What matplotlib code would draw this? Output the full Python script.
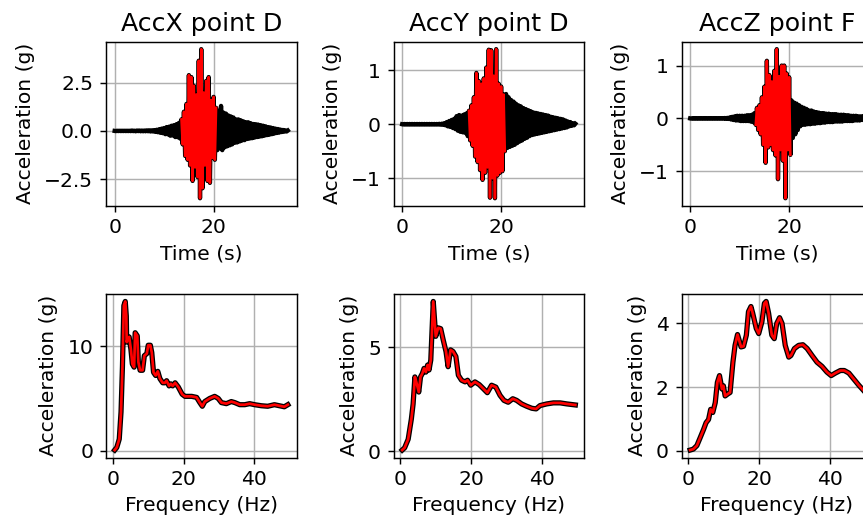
import numpy as np
import matplotlib
matplotlib.use("Agg")
import matplotlib.pyplot as plt

# ---------------- data ----------------
dt = 0.25  # sampling step of the digitised records (s)

acc_x = [
    0.00, -0.01, 0.01, -0.01,
    0.01, -0.01, 0.01, -0.01,
    0.01, -0.01, 0.01, -0.01,
    0.01, -0.01, 0.02, -0.01,
    0.01, -0.02, 0.02, -0.01,
    0.02, -0.02, 0.02, -0.02,
    0.02, -0.02, 0.03, -0.02,
    0.03, -0.03, 0.03, -0.03,
    0.04, -0.05, 0.06, -0.07,
    0.09, -0.10, 0.12, -0.12,
    0.15, -0.17, 0.20, -0.18,
    0.22, -0.25, 0.27, -0.24,
    0.30, -0.32, 0.35, -0.33,
    0.42, -0.40, 0.60, -0.70,
    1.00, -1.30, 1.40, -1.50,
    2.90, -1.80, 2.80, -2.60,
    2.35, -1.90, 1.90, -2.40,
    3.65, -3.50, 4.25, -2.98,
    2.00, -1.80, 2.60, -2.60,
    2.80, -2.70, 1.60, -1.40,
    1.77, -1.50, 1.20, -1.00,
    1.00, -0.90, 1.30, -1.00,
    0.95, -0.85, 0.90, -0.80,
    0.80, -0.75, 0.75, -0.70,
    0.70, -0.62, 0.60, -0.60,
    0.60, -0.55, 0.55, -0.50,
    0.50, -0.48, 0.45, -0.42,
    0.45, -0.40, 0.40, -0.38,
    0.36, -0.35, 0.35, -0.32,
    0.33, -0.30, 0.30, -0.28,
    0.27, -0.25, 0.24, -0.22,
    0.20, -0.20, 0.18, -0.17,
    0.15, -0.14, 0.12, -0.11,
    0.10, -0.09, 0.07, -0.06,
    0.05, -0.04, 0.03, -0.03,
    0.02,
]

acc_y = [
    0.000, -0.005, 0.005, -0.005,
    0.005, -0.005, 0.005, -0.005,
    0.005, -0.005, 0.005, -0.005,
    0.005, -0.005, 0.005, -0.005,
    0.005, -0.005, 0.005, -0.005,
    0.005, -0.005, 0.005, -0.005,
    0.005, -0.005, 0.005, -0.005,
    0.005, -0.005, 0.008, -0.008,
    0.01, -0.01, 0.02, -0.02,
    0.04, -0.04, 0.06, -0.05,
    0.08, -0.07, 0.10, -0.09,
    0.15, -0.12, 0.17, -0.14,
    0.16, -0.15, 0.18, -0.16,
    0.20, -0.22, 0.25, -0.30,
    0.35, -0.40, 0.50, -0.60,
    0.95, -0.70, 0.80, -0.85,
    0.75, -1.03, 0.85, -0.90,
    1.05, -0.80, 1.38, -1.36,
    1.37, -1.00, 0.90, -1.37,
    1.39, -0.95, 0.75, -0.90,
    0.70, -0.87, 0.55, -0.50,
    0.56, -0.44, 0.50, -0.42,
    0.45, -0.40, 0.42, -0.38,
    0.38, -0.35, 0.35, -0.32,
    0.33, -0.30, 0.30, -0.27,
    0.28, -0.25, 0.26, -0.22,
    0.24, -0.20, 0.22, -0.19,
    0.21, -0.18, 0.20, -0.17,
    0.19, -0.16, 0.18, -0.15,
    0.17, -0.14, 0.16, -0.13,
    0.14, -0.12, 0.13, -0.11,
    0.12, -0.10, 0.11, -0.09,
    0.10, -0.08, 0.09, -0.07,
    0.07, -0.06, 0.05, -0.04,
    0.04, -0.03, 0.02, -0.02,
    0.01,
]

acc_z = [
    0.000, -0.005, 0.005, -0.005,
    0.005, -0.005, 0.005, -0.005,
    0.005, -0.005, 0.005, -0.005,
    0.005, -0.005, 0.005, -0.005,
    0.005, -0.005, 0.005, -0.005,
    0.005, -0.005, 0.005, -0.005,
    0.005, -0.005, 0.005, -0.005,
    0.008, -0.008, 0.010, -0.010,
    0.02, -0.02, 0.03, -0.03,
    0.04, -0.04, 0.05, -0.04,
    0.05, -0.05, 0.05, -0.05,
    0.05, -0.05, 0.06, -0.05,
    0.06, -0.06, 0.07, -0.07,
    0.10, -0.12, 0.20, -0.22,
    0.25, -0.30, 0.40, -0.50,
    0.60, -0.84, 1.09, -0.55,
    0.82, -0.50, 0.70, -0.60,
    0.90, -0.70, 1.31, -1.15,
    0.80, -0.60, 1.00, -0.80,
    1.00, -1.51, 0.85, -0.60,
    0.78, -0.69, 0.34, -0.37,
    0.30, -0.30, 0.28, -0.22,
    0.25, -0.15, 0.22, -0.12,
    0.20, -0.12, 0.18, -0.11,
    0.15, -0.11, 0.15, -0.10,
    0.13, -0.10, 0.12, -0.09,
    0.11, -0.09, 0.10, -0.08,
    0.10, -0.08, 0.09, -0.07,
    0.09, -0.07, 0.08, -0.07,
    0.08, -0.06, 0.08, -0.06,
    0.07, -0.06, 0.07, -0.06,
    0.07, -0.05, 0.06, -0.05,
    0.06, -0.05, 0.05, -0.05,
    0.05, -0.04, 0.05, -0.04,
    0.04, -0.04, 0.04, -0.03,
    0.03,
]

# strong-motion windows (s) drawn in red
window_x = [13.5, 20.5]
window_y = [13.5, 20.75]
window_z = [13.25, 20.3]

# response spectra
freq_x = [0.5, 1.1, 1.8, 2.3, 2.7, 3.1, 3.5, 3.8, 3.9, 4.2, 4.6, 5.1, 5.5, 6.0, 6.3,
          6.9, 7.2, 7.7, 8.4, 8.9, 9.6, 10.0, 10.6, 11.0, 11.5, 12.1, 12.7, 13.3,
          14.1, 14.7, 15.2, 15.9, 16.4, 16.9, 17.6, 18.5, 19.6, 20.4, 22.3, 23.7,
          24.6, 25.3, 26.0, 27.4, 28.8, 29.8, 30.7, 32.1, 33.5, 34.5, 35.9, 37.3,
          38.7, 40.1, 42.0, 43.8, 45.7, 47.1, 48.5, 49.5]
spec_x = [0.05, 0.3, 1.1, 3.7, 8.0, 13.9, 14.3, 12.9, 10.4, 10.7, 10.9, 9.7, 8.3, 8.0,
          11.3, 11.0, 8.5, 7.7, 7.7, 9.1, 9.3, 10.1, 10.1, 9.4, 7.5, 7.2, 7.6, 6.9,
          6.5, 6.5, 6.7, 6.2, 6.4, 6.2, 6.5, 6.1, 5.4, 5.2, 5.2, 5.1, 4.6, 4.25, 4.7,
          5.0, 5.2, 5.0, 4.6, 4.5, 4.7, 4.6, 4.4, 4.4, 4.5, 4.4, 4.3, 4.25, 4.4, 4.3,
          4.2, 4.4]

freq_y = [0.5, 1.2, 2.2, 3.1, 3.6, 4.1, 4.5, 5.2, 5.7, 6.2, 6.7, 7.2, 7.7, 8.1, 8.6,
          9.3, 10.0, 10.7, 11.4, 12.1, 12.9, 13.5, 14.2, 14.9, 15.7, 16.4, 17.3, 18.3,
          19.0, 19.9, 21.1, 22.3, 23.5, 24.6, 25.8, 27.0, 28.2, 29.3, 30.5, 31.8, 32.9,
          34.3, 35.7, 37.2, 38.4, 39.5, 41.4, 43.3, 45.2, 47.1, 49.5]
spec_y = [0.05, 0.16, 0.57, 1.54, 2.27, 3.57, 3.33, 2.84, 3.57, 3.73, 3.98, 3.8, 4.14,
          3.9, 4.38, 7.2, 5.52, 5.93, 5.89, 5.36, 4.79, 4.06, 4.87, 4.79, 4.55, 3.65,
          3.41, 3.33, 3.41, 3.17, 3.33, 3.2, 3.0, 2.81, 3.17, 3.08, 2.68, 2.44, 2.35,
          2.52, 2.44, 2.27, 2.16, 2.06, 2.03, 2.19, 2.27, 2.32, 2.32, 2.27, 2.22]

freq_z = [0.5, 1.4, 2.4, 3.3, 4.3, 5.0, 5.7, 6.3, 6.9, 7.6, 8.2, 8.8, 9.5, 9.9, 10.4,
          11.1, 11.8, 12.6, 13.2, 13.9, 14.5, 14.9, 15.6, 16.4, 17.0, 17.7, 18.2, 19.2,
          19.9, 20.8, 21.5, 22.0, 22.7, 23.6, 24.3, 25.0, 25.8, 26.5, 27.4, 28.4, 29.0,
          30.0, 31.2, 32.4, 33.6, 35.0, 36.4, 37.8, 39.2, 40.4, 41.6, 43.0, 44.1, 45.4,
          46.8, 48.2, 49.5]
spec_z = [0.02, 0.05, 0.16, 0.4, 0.67, 0.88, 0.98, 1.3, 1.2, 1.51, 2.15, 2.36, 1.94,
          2.04, 1.72, 1.78, 1.83, 2.78, 3.31, 3.65, 3.42, 3.26, 3.28, 3.63, 4.37, 4.53,
          4.32, 3.84, 3.68, 4.05, 4.63, 4.69, 4.32, 3.63, 3.52, 4.0, 4.18, 4.0, 3.31,
          2.94, 2.99, 3.21, 3.31, 3.33, 3.21, 2.99, 2.78, 2.65, 2.47, 2.36, 2.44, 2.52,
          2.52, 2.44, 2.25, 2.06, 1.90]

titles = ["AccX point D", "AccY point D", "AccZ point F"]
time_yticks = [[-2.5, 0.0, 2.5], [-1, 0, 1], [-1, 0, 1]]
spec_yticks = [[0, 10], [0, 5], [0, 2, 4]]
time_xticks = [0, 20]
freq_xticks = [0, 20, 40]

# ---------------- figure ----------------
plt.rcParams["font.size"] = 11.2
plt.rcParams["axes.titlesize"] = 14

W, H, DPI = 863, 526, 130
fig = plt.figure(figsize=(W / DPI, H / DPI), dpi=DPI)

col_left = [106, 393.5, 681.5]
ax_w = 190.5
top_row = (41.7, 205.7)
bot_row = (294.0, 457.5)

def make_ax(left, row):
    t, b = row
    return fig.add_axes([left / W, 1 - b / H, ax_w / W, (b - t) / H])

signals = [acc_x, acc_y, acc_z]
windows = [window_x, window_y, window_z]
freqs = [freq_x, freq_y, freq_z]
specs = [spec_x, spec_y, spec_z]

for j in range(3):
    sig = np.array(signals[j])
    tt = np.arange(len(sig)) * dt
    w0, w1 = windows[j]
    m = (tt >= w0 - 1e-9) & (tt <= w1 + 1e-9)

    ax = make_ax(col_left[j], top_row)
    ax.plot(tt, sig, color="black", lw=2.4)
    ax.plot(tt[m], sig[m], color="red", lw=1.4)
    ax.set_title(titles[j])
    ax.set_xlabel("Time (s)")
    ax.set_ylabel("Acceleration (g)", labelpad=5)
    ax.set_xticks(time_xticks)
    ax.set_yticks(time_yticks[j])
    ax.grid(True)

    ax2 = make_ax(col_left[j], bot_row)
    ax2.plot(freqs[j], specs[j], color="black", lw=2.9)
    ax2.plot(freqs[j], specs[j], color="red", lw=1.5)
    ax2.set_xlabel("Frequency (Hz)")
    ax2.set_ylabel("Acceleration (g)", labelpad=5)
    ax2.set_xticks(freq_xticks)
    ax2.set_yticks(spec_yticks[j])
    ax2.grid(True)

fig.savefig("out.png", dpi=DPI)
